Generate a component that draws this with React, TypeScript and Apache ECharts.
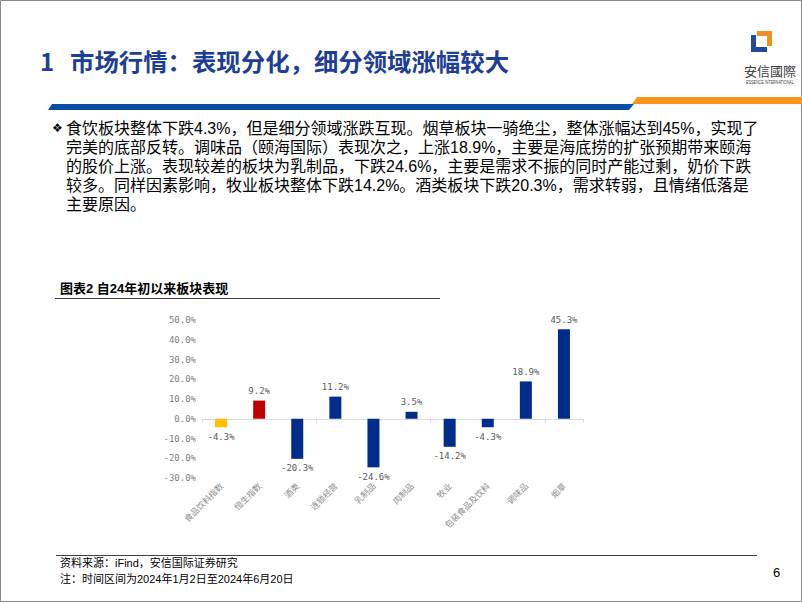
import React, { useEffect, useRef } from "react";
import * as echarts from "echarts";

const categories = ["食品饮料指数", "恒生指数", "酒类", "连锁经营", "乳制品", "肉制品", "牧业", "包装食品及饮料", "调味品", "烟草"];
const values = [-4.3, 9.2, -20.3, 11.2, -24.6, 3.5, -14.2, -4.3, 18.9, 45.3];
const barColors = ["#FFC000", "#C00000", "#002C8C", "#002C8C", "#002C8C", "#002C8C", "#002C8C", "#002C8C", "#002C8C", "#002C8C"];
const yMin = -30;
const yMax = 50;
const yStep = 10;

const titleNum = "1";
const titleText = "市场行情：表现分化，细分领域涨幅较大";
const bodyLines = [
  "食饮板块整体下跌4.3%，但是细分领域涨跌互现。烟草板块一骑绝尘，整体涨幅达到45%，实现了",
  "完美的底部反转。调味品（颐海国际）表现次之，上涨18.9%，主要是海底捞的扩张预期带来颐海",
  "的股价上涨。表现较差的板块为乳制品，下跌24.6%，主要是需求不振的同时产能过剩，奶价下跌",
  "较多。同样因素影响，牧业板块整体下跌14.2%。酒类板块下跌20.3%，需求转弱，且情绪低落是",
  "主要原因。",
];
const chartTitle = "图表2 自24年初以来板块表现";
const sourceText = "资料来源：iFind，安信国际证券研究";
const noteText = "注：时间区间为2024年1月2日至2024年6月20日";
const pageNo = "6";

const CJK = "'Noto Sans CJK SC', 'Noto Sans', sans-serif";
const MIX = "'Liberation Sans', 'Noto Sans CJK SC', sans-serif";

export default function App() {
  const ref = useRef<HTMLDivElement>(null);
  useEffect(() => {
    if (!ref.current) return;
    const chart = echarts.init(ref.current, undefined, { renderer: "svg" });
    const pct = (v: number) => v.toFixed(1) + "%";
    const graphics: any[] = [
      { type: "rect", shape: { x: 0.5, y: 0.5, width: 801, height: 601 }, style: { fill: "none", stroke: "#8c8c8c", lineWidth: 1 } },
      { type: "text", x: 40, y: 60, style: { text: titleNum, font: `bold 24px ${CJK}`, fill: "#1D3E96", verticalAlign: "middle" } },
      { type: "text", x: 70, y: 60, style: { text: titleText, font: `bold 24.4px ${CJK}`, fill: "#1D3E96", verticalAlign: "middle" } },
      // logo icon
      { type: "polygon", shape: { points: [[757, 31], [772, 31], [772, 46], [767, 46], [767, 36], [757, 36]] }, style: { fill: "#F0901E" } },
      { type: "polygon", shape: { points: [[751, 35], [756, 35], [756, 47], [767, 47], [767, 52], [751, 52]] }, style: { fill: "#1F4C9C" } },
      { type: "text", x: 770, y: 70, style: { text: "安信國際", font: `13px 'Noto Sans CJK TC', ${CJK}`, fill: "#404040", align: "center", verticalAlign: "middle" } },
      { type: "text", x: 770, y: 82, scaleX: 0.8, style: { text: "ESSENCE INTERNATIONAL", font: "4.6px 'Liberation Sans', sans-serif", fill: "#404040", align: "center", verticalAlign: "middle" } },
      // header bars
      { type: "polygon", shape: { points: [[52, 104], [634, 104], [629, 110], [48, 110]] }, style: { fill: "#0B4EA2" } },
      { type: "polygon", shape: { points: [[637, 97], [802, 97], [802, 104], [632, 104]] }, style: { fill: "#F7941D" } },
      // bullet
      { type: "text", x: 52, y: 128, style: { text: "❖", font: "12px 'DejaVu Sans', sans-serif", fill: "#000", verticalAlign: "middle" } },
      // body paragraph
      { type: "text", x: 66, y: 118.5, style: { text: bodyLines.join("\n"), font: `16px ${MIX}`, lineHeight: 19, fill: "#000", verticalAlign: "top" } },
      // chart title & rule
      { type: "text", x: 60, y: 288, style: { text: chartTitle, font: `bold 13px ${MIX}`, fill: "#000", verticalAlign: "middle" } },
      { type: "line", shape: { x1: 55, y1: 298.5, x2: 440, y2: 298.5 }, style: { stroke: "#404040", lineWidth: 1 } },
      // footer
      { type: "line", shape: { x1: 56, y1: 555.5, x2: 757, y2: 555.5 }, style: { stroke: "#404040", lineWidth: 1 } },
      { type: "text", x: 60, y: 563, style: { text: sourceText, font: `11px ${MIX}`, fill: "#000", verticalAlign: "middle" } },
      { type: "text", x: 60, y: 579, style: { text: noteText, font: `11px ${MIX}`, fill: "#000", verticalAlign: "middle" } },
      { type: "text", x: 773, y: 572, style: { text: pageNo, font: "13px 'Liberation Sans', sans-serif", fill: "#000", verticalAlign: "middle" } },
    ];

    chart.setOption({
      animation: false,
      backgroundColor: "#ffffff",
      graphic: graphics,
      grid: { left: 202, top: 320, width: 381, height: 158, containLabel: false },
      xAxis: [
        {
          type: "category", data: categories, position: "bottom",
          axisLine: { onZero: true, lineStyle: { color: "#D9D9D9", width: 1 } },
          axisTick: { show: true, alignWithLabel: false, length: 4, inside: false, lineStyle: { color: "#D9D9D9" } },
          axisLabel: { show: false },
        },
        {
          type: "category", data: categories, position: "bottom",
          axisLine: { show: false, onZero: false }, axisTick: { show: false },
          axisLabel: { show: true, rotate: 45, interval: 0, margin: 6, fontSize: 8.5, color: "#8C8C8C", fontFamily: CJK },
        },
      ],
      yAxis: {
        type: "value", min: yMin, max: yMax, interval: yStep,
        axisLine: { show: false }, axisTick: { show: false }, splitLine: { show: false },
        axisLabel: { formatter: (v: number) => pct(v), fontSize: 9, color: "#7F7F7F", margin: 6, fontFamily: "'DejaVu Sans Mono', monospace" },
      },
      series: [
        {
          type: "bar", xAxisIndex: 0, barWidth: 12,
          data: values.map((v, i) => ({
            value: v,
            itemStyle: { color: barColors[i] },
            label: { position: v < 0 ? "bottom" : "top" },
          })),
          label: {
            show: true, distance: 5, fontSize: 9, color: "#595959",
            fontFamily: "'DejaVu Sans Mono', monospace",
            formatter: (p: any) => pct(p.value),
          },
        },
      ],
    });
    return () => chart.dispose();
  }, []);
  return <div ref={ref} style={{ position: "fixed", left: 0, top: 0, width: 802, height: 602 }} />;
}
